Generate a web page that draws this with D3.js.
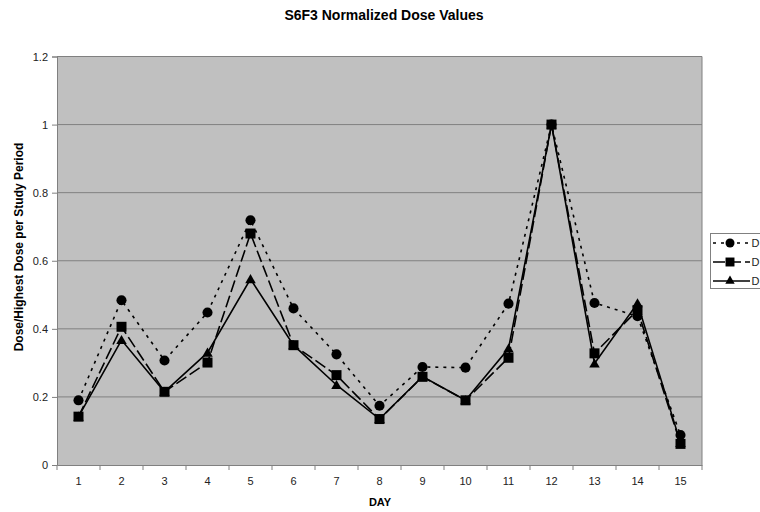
<!DOCTYPE html>
<html><head><meta charset="utf-8">
<script src="https://cdn.jsdelivr.net/npm/d3@7"></script>
<style>body{margin:0;background:#fff;} svg{display:block;}</style>
</head><body>
<svg id="c" width="760" height="512"></svg>
<script>
const days = [1,2,3,4,5,6,7,8,9,10,11,12,13,14,15];
const seriesNames = ["D","D","D"];
const seriesA = [0.19,0.484,0.307,0.448,0.719,0.46,0.325,0.174,0.288,0.286,0.474,1.0,0.476,0.437,0.088];
const seriesB = [0.142,0.406,0.215,0.301,0.68,0.352,0.264,0.135,0.259,0.19,0.315,1.0,0.328,0.455,0.062];
const seriesC = [0.142,0.367,0.215,0.33,0.546,0.352,0.235,0.135,0.26,0.19,0.342,1.0,0.298,0.475,0.065];
const yTicks = [0,0.2,0.4,0.6,0.8,1,1.2];

const svg = d3.select("#c");
const L=57, R=702, T=56.5, B=465;
const x = d3.scaleBand().domain(days).range([L,R]);
const y = d3.scaleLinear().domain([0,1.2]).range([B,T]);
const font = "Liberation Sans, Arial, sans-serif";

svg.append("rect").attr("x",L).attr("y",T).attr("width",R-L).attr("height",B-T).attr("fill","#c0c0c0");
// gridlines
svg.append("g").selectAll("line").data(yTicks.filter(d=>d>0)).join("line")
  .attr("x1",L).attr("x2",R).attr("y1",d=>y(d)).attr("y2",d=>y(d))
  .attr("stroke","#808080").attr("stroke-width",1);
svg.append("line").attr("x1",R).attr("x2",R).attr("y1",T).attr("y2",B).attr("stroke","#808080");

// y axis
const ya = svg.append("g").attr("transform",`translate(${L},0)`)
  .call(d3.axisLeft(y).tickValues(yTicks).tickSize(5).tickPadding(4).tickFormat(d=>d3.format("")(d)));
ya.select(".domain").attr("stroke","#808080");
ya.selectAll(".tick line").attr("stroke","#808080");
ya.selectAll("text").attr("font-family",font).attr("font-size",11).attr("fill","#222");

// x axis
const xa = svg.append("g").attr("transform",`translate(0,${B})`)
  .call(d3.axisBottom(x).tickSize(0).tickPadding(12));
xa.select(".domain").attr("stroke","#808080");
xa.selectAll("text").attr("font-family",font).attr("font-size",11).attr("fill","#222");
const bounds = days.map(d=>x(d)+x.bandwidth()).concat([L]);
xa.append("g").selectAll("line").data(bounds).join("line")
  .attr("x1",d=>d).attr("x2",d=>d).attr("y1",0).attr("y2",5).attr("stroke","#808080");

// series
const series = [
  {vals:seriesA, dash:"3,5", marker:"circle"},
  {vals:seriesB, dash:"12,4", marker:"square"},
  {vals:seriesC, dash:null, marker:"triangle"}
];
const cx = d=>x(d)+x.bandwidth()/2;
const symbolOf = m => m==="circle"?d3.symbolCircle:(m==="square"?d3.symbolSquare:d3.symbolTriangle);
const sizeOf = m => m==="circle"?80:(m==="square"?100:48);
const line = d3.line().x(d=>cx(d.day)).y(d=>y(d.v));
series.forEach(s=>{
  const pts = days.map((d,i)=>({day:d,v:s.vals[i]}));
  svg.append("path").datum(pts).attr("d",line).attr("fill","none")
    .attr("stroke","#000").attr("stroke-width",1.6).attr("stroke-dasharray",s.dash);
  svg.append("g").selectAll("path").data(pts).join("path")
    .attr("transform",d=>`translate(${cx(d.day)},${y(d.v)+(s.marker==="triangle"?1:0)})`)
    .attr("d",d3.symbol().type(symbolOf(s.marker)).size(sizeOf(s.marker)))
    .attr("fill","#000");
});

// legend
const lg = svg.append("g");
lg.append("rect").attr("x",710.5).attr("y",233.5).attr("width",80).attr("height",55)
  .attr("fill","#fff").attr("stroke","#808080");
const rowY = [243,262,281];
series.forEach((s,i)=>{
  lg.append("line").attr("x1",713).attr("x2",750).attr("y1",rowY[i]).attr("y2",rowY[i])
    .attr("stroke","#000").attr("stroke-width",1.6).attr("stroke-dasharray",s.dash);
  lg.append("path").attr("transform",`translate(730,${rowY[i]})`)
    .attr("d",d3.symbol().type(symbolOf(s.marker)).size(sizeOf(s.marker)*0.8)).attr("fill","#000");
  lg.append("text").attr("x",751.5).attr("y",rowY[i]+4).attr("font-family",font).attr("font-size",11)
    .attr("fill","#222").text(seriesNames[i]);
});

// titles
svg.append("text").attr("x",384).attr("y",20).attr("text-anchor","middle")
  .attr("font-family",font).attr("font-size",14).attr("font-weight","bold").text("S6F3 Normalized Dose Values");
svg.append("text").attr("x",380).attr("y",506).attr("text-anchor","middle")
  .attr("font-family",font).attr("font-size",11).attr("font-weight","bold").text("DAY");
svg.append("text").attr("transform","translate(23,247) rotate(-90)").attr("text-anchor","middle")
  .attr("font-family",font).attr("font-size",12).attr("font-weight","bold").text("Dose/Highest Dose per Study Period");
</script>
</body></html>
